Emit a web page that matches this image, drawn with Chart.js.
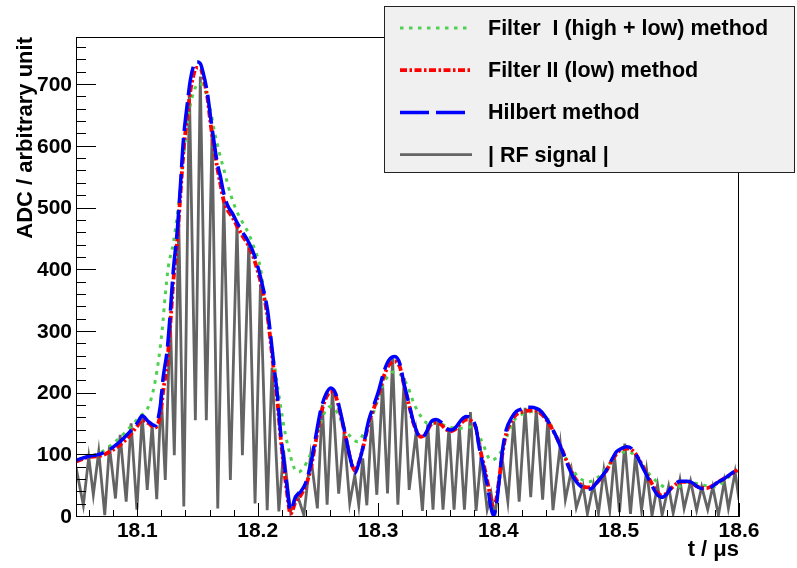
<!DOCTYPE html>
<html>
<head>
<meta charset="utf-8">
<script src="https://cdn.jsdelivr.net/npm/chart.js@4.4.1/dist/chart.umd.min.js"></script>
<style>
  html, body { margin: 0; padding: 0; background: #fff; }
  #wrap { width: 797px; height: 568px; }
</style>
</head>
<body>
<div id="wrap"><canvas id="envChart" width="797" height="568"></canvas></div>
<script>
// time axis (us) shared by the Hilbert and Filter II envelopes
const envTimes = [18.049, 18.059, 18.069, 18.079, 18.0898, 18.0998, 18.104, 18.109, 18.1148, 18.119,
    18.1215, 18.1248, 18.1273, 18.1298, 18.1332, 18.1357, 18.1382, 18.1415, 18.144, 18.1465,
    18.149, 18.1523, 18.1548, 18.1582, 18.1607, 18.1632, 18.1665, 18.169, 18.1715, 18.1748,
    18.179, 18.1832, 18.1873, 18.1915, 18.1957, 18.1998, 18.204, 18.2082, 18.2107, 18.2132,
    18.2165, 18.219, 18.2215, 18.224, 18.2273, 18.2315, 18.2357, 18.2398, 18.244, 18.2482,
    18.2523, 18.2565, 18.2607, 18.2648, 18.269, 18.2732, 18.2773, 18.2807, 18.284, 18.2882,
    18.2923, 18.2965, 18.3007, 18.3048, 18.309, 18.314, 18.3182, 18.3215, 18.3257, 18.3298,
    18.3357, 18.3398, 18.344, 18.3482, 18.3523, 18.3565, 18.3607, 18.3648, 18.369, 18.3732,
    18.3773, 18.3815, 18.384, 18.3882, 18.3915, 18.394, 18.3957, 18.3982, 18.4007, 18.4032,
    18.4065, 18.4107, 18.4148, 18.419, 18.4232, 18.4273, 18.4315, 18.4357, 18.4398, 18.444,
    18.4482, 18.4523, 18.4565, 18.4607, 18.4648, 18.469, 18.4732, 18.4773, 18.4815, 18.4857,
    18.4898, 18.494, 18.4982, 18.5023, 18.5065, 18.5107, 18.5148, 18.519, 18.5232, 18.5273,
    18.5315, 18.5357, 18.5398, 18.544, 18.5482, 18.5523, 18.5565, 18.5607, 18.5648, 18.569,
    18.5732, 18.5773, 18.5815, 18.5857, 18.5898, 18.594, 18.5982, 18.6];

const hilbertValues = [92, 98, 102, 112, 130, 152, 164, 155, 148, 179,
    227, 271, 330, 398, 465, 535, 610, 670, 708, 730,
    738, 735, 719, 687, 650, 615, 573, 552, 527, 506,
    492, 476, 462, 449, 432, 408, 375, 335, 295, 250,
    195, 138, 95, 55, 11, 33, 41, 55, 85, 130,
    173, 198, 209, 200, 168, 130, 92, 71, 87, 119,
    157, 181, 206, 235, 254, 260, 248, 217, 184, 152,
    128, 136, 154, 158, 154, 144, 141, 146, 157, 163,
    160, 144, 114, 76, 44, 14, 3, 17, 60, 105,
    141, 160, 171, 175, 178, 178, 176, 171, 160, 146,
    130, 111, 90, 71, 57, 49, 45, 46, 55, 65,
    76, 92, 106, 111, 114, 111, 100, 84, 68, 52,
    38, 32, 37, 49, 56, 58, 58, 56, 50, 46,
    46, 49, 55, 60, 65, 71, 76, 79];

const filter2Values = [90, 97, 99, 108, 124, 147, 157, 152, 145, 165,
    205, 250, 310, 380, 450, 520, 590, 650, 690, 715,
    728, 728, 712, 680, 640, 605, 565, 540, 515, 498,
    486, 470, 456, 443, 425, 400, 368, 325, 285, 240,
    185, 130, 85, 45, 5, 25, 35, 50, 78, 122,
    165, 192, 203, 196, 165, 128, 92, 75, 88, 118,
    152, 176, 200, 228, 246, 252, 243, 215, 182, 150,
    130, 136, 150, 153, 150, 142, 139, 143, 152, 158,
    156, 143, 117, 82, 52, 28, 20, 28, 62, 100,
    135, 155, 166, 170, 172, 173, 172, 167, 158, 145,
    130, 112, 92, 74, 60, 52, 48, 48, 55, 64,
    75, 90, 103, 109, 111, 109, 100, 86, 70, 55,
    42, 35, 38, 47, 54, 57, 57, 55, 50, 47,
    47, 50, 55, 60, 65, 70, 76, 80];

// Filter I (high + low) envelope
const filter1Times = [18.049, 18.059, 18.069, 18.079, 18.0898, 18.0998, 18.104, 18.109, 18.1132, 18.1173,
    18.1207, 18.1232, 18.1257, 18.1298, 18.1332, 18.1373, 18.1415, 18.1457, 18.1515, 18.1565,
    18.1607, 18.164, 18.1682, 18.1723, 18.1773, 18.1823, 18.1873, 18.1923, 18.1973, 18.2023,
    18.2065, 18.2107, 18.2148, 18.219, 18.2232, 18.2273, 18.2307, 18.234, 18.2382, 18.2423,
    18.2465, 18.2523, 18.2565, 18.2607, 18.2665, 18.2715, 18.2773, 18.2832, 18.2882, 18.294,
    18.2998, 18.3048, 18.3123, 18.319, 18.3248, 18.3298, 18.3357, 18.3415, 18.3498, 18.3582,
    18.369, 18.3773, 18.3857, 18.394, 18.4023, 18.4082, 18.4132, 18.4215, 18.4315, 18.4415,
    18.4498, 18.4582, 18.4665, 18.4748, 18.4832, 18.4915, 18.4998, 18.5082, 18.5165, 18.5248,
    18.5332, 18.5415, 18.5498, 18.5582, 18.569, 18.5798, 18.5915, 18.6];

const filter1Values = [90, 98, 104, 118, 137, 158, 166, 178, 205, 250,
    305, 360, 405, 443, 490, 562, 638, 682, 703, 690,
    660, 625, 590, 560, 524, 497, 478, 460, 435, 403,
    345, 290, 235, 180, 132, 98, 78, 73, 80, 95,
    114, 152, 173, 179, 168, 146, 130, 122, 136, 157,
    190, 217, 235, 230, 211, 184, 163, 152, 152, 146,
    144, 146, 125, 92, 106, 136, 157, 168, 171, 157,
    122, 87, 65, 57, 65, 84, 103, 106, 92, 71,
    55, 46, 49, 57, 52, 49, 65, 76];

// |RF signal| samples (peaks and troughs)
const rfTimes = [18.049, 18.0551, 18.0596, 18.0634, 18.0679, 18.0729, 18.0768, 18.0818, 18.0857, 18.0907,
    18.0948, 18.0996, 18.104, 18.1082, 18.1123, 18.1161, 18.1198, 18.1232, 18.1273, 18.1307,
    18.1344, 18.1386, 18.1432, 18.1482, 18.1523, 18.1573, 18.1621, 18.1668, 18.1718, 18.1773,
    18.1828, 18.1873, 18.1926, 18.1978, 18.2023, 18.2079, 18.2119, 18.2176, 18.2215, 18.2273,
    18.2329, 18.2384, 18.244, 18.2496, 18.2537, 18.2577, 18.2621, 18.2673, 18.2718, 18.2765,
    18.2807, 18.284, 18.2873, 18.2907, 18.2948, 18.299, 18.3038, 18.3079, 18.3121, 18.3165,
    18.3218, 18.3259, 18.3315, 18.3369, 18.3413, 18.3457, 18.3496, 18.354, 18.359, 18.3632,
    18.3676, 18.3718, 18.3768, 18.3815, 18.3857, 18.3907, 18.394, 18.397, 18.4032, 18.4079,
    18.4128, 18.4173, 18.4223, 18.4269, 18.4315, 18.4368, 18.4412, 18.4454, 18.4515, 18.4557,
    18.4607, 18.4648, 18.4704, 18.474, 18.479, 18.4832, 18.4877, 18.4926, 18.4965, 18.5007,
    18.5051, 18.5098, 18.514, 18.519, 18.5232, 18.5277, 18.5323, 18.5361, 18.5415, 18.5453,
    18.5509, 18.5544, 18.5598, 18.5648, 18.569, 18.574, 18.5782, 18.5829, 18.5878, 18.5912,
    18.5968, 18.6];

const rfValues = [81, 19, 97, 36, 106, 3, 115, 30, 133, 25,
    152, 12, 164, 44, 150, 29, 200, 60, 325, 100,
    480, 17, 695, 157, 714, 157, 627, 14, 515, 60,
    475, 100, 443, 22, 376, 11, 242, 9, 108, 9,
    36, 3, 100, 14, 182, 20, 206, 38, 136, 22,
    68, 19, 95, 19, 160, 36, 215, 38, 257, 20,
    225, 44, 135, 10, 150, 12, 155, 12, 145, 12,
    145, 12, 170, 10, 100, 12, 38, 0, 95, 25,
    155, 25, 177, 32, 175, 28, 160, 11, 118, 28,
    76, 15, 50, 5, 53, 6, 76, 11, 100, 8,
    119, 5, 100, 11, 76, 2, 52, 3, 50, 6,
    60, 14, 58, 11, 49, 12, 49, 3, 58, 14,
    73, 28];

const seriesLabels = ['Filter  I (high + low) method', 'Filter II (low) method', 'Hilbert method', '| RF signal |'];
const xTickValues = [18.1, 18.2, 18.3, 18.4, 18.5, 18.6];
const xTickLabels = ['18.1', '18.2', '18.3', '18.4', '18.5', '18.6'];
const yTickValues = [0, 100, 200, 300, 400, 500, 600, 700];
const yTickLabels = ['0', '100', '200', '300', '400', '500', '600', '700'];

const fontFamily = '"Liberation Sans", Arial, Helvetica, sans-serif';
const tickFont = { family: fontFamily, size: 21, weight: 'bold' };
const titleFont = { family: fontFamily, size: 22, weight: 'bold' };

function toPoints(times, values) {
    return times.map((t, i) => ({ x: t, y: values[i] }));
}

// ROOT-like frame with ticks pointing into the plot
const frameTicks = {
    id: 'frameTicks',
    afterDatasetsDraw(chart) {
        const { ctx, chartArea: a, scales: { x, y } } = chart;
        ctx.save();
        ctx.strokeStyle = '#000';
        ctx.lineWidth = 1;
        ctx.beginPath();
        for (let v = 0; v <= y.max; v += 20) {
            const py = Math.round(y.getPixelForValue(v)) - 0.5;
            const len = v % 100 === 0 ? 20 : 10;
            ctx.moveTo(a.left, py);
            ctx.lineTo(a.left + len, py);
        }
        const kMin = Math.ceil(x.min / 0.02 - 1e-6);
        const kMax = Math.floor(x.max / 0.02 + 1e-6);
        for (let k = kMin; k <= kMax; k++) {
            const px = Math.round(x.getPixelForValue(k * 0.02)) + 0.5;
            const len = k % 5 === 0 ? 14 : 7;
            ctx.moveTo(px, a.bottom);
            ctx.lineTo(px, a.bottom - len);
        }
        ctx.stroke();
        ctx.strokeRect(a.left + 0.5, a.top + 0.5, a.right - a.left - 1, a.bottom - a.top - 1);
        ctx.restore();
    }
};

const boxLegend = {
    id: 'boxLegend',
    afterDraw(chart) {
        const ctx = chart.ctx;
        ctx.save();
        ctx.fillStyle = '#f0f0f0';
        ctx.fillRect(384, 6, 411, 167);
        ctx.strokeStyle = '#222';
        ctx.lineWidth = 1;
        ctx.strokeRect(384.5, 6.5, 410, 166);
        chart.data.datasets.forEach((ds, i) => {
            const cy = 28 + i * 42.2;
            ctx.strokeStyle = ds.borderColor;
            ctx.lineWidth = ds.borderWidth;
            ctx.setLineDash(ds.borderDash || []);
            ctx.beginPath();
            ctx.moveTo(400, cy);
            ctx.lineTo(472, cy);
            ctx.stroke();
            ctx.setLineDash([]);
            ctx.fillStyle = '#000';
            ctx.font = 'bold 21.5px ' + fontFamily;
            ctx.textBaseline = 'middle';
            ctx.fillText(ds.label, 488, cy + 1);
        });
        ctx.restore();
    }
};

new Chart(document.getElementById('envChart'), {
    type: 'line',
    data: {
        datasets: [
            {
                label: seriesLabels[0],
                data: toPoints(filter1Times, filter1Values),
                borderColor: '#50d050',
                borderWidth: 3,
                borderDash: [3.5, 5.5],
                cubicInterpolationMode: 'monotone',
                pointRadius: 0,
                order: 2
            },
            {
                label: seriesLabels[1],
                data: toPoints(envTimes, filter2Values),
                borderColor: '#ff0000',
                borderWidth: 3.8,
                borderDash: [7, 2.5, 2.5, 2.5],
                cubicInterpolationMode: 'monotone',
                pointRadius: 0,
                order: 1
            },
            {
                label: seriesLabels[2],
                data: toPoints(envTimes, hilbertValues),
                borderColor: '#0000ff',
                borderWidth: 3.5,
                borderDash: [29, 7],
                cubicInterpolationMode: 'monotone',
                pointRadius: 0,
                order: 0
            },
            {
                label: seriesLabels[3],
                data: toPoints(rfTimes, rfValues),
                borderColor: '#646464',
                borderWidth: 2.8,
                tension: 0,
                pointRadius: 0,
                order: 3
            }
        ]
    },
    options: {
        responsive: false,
        animation: false,
        devicePixelRatio: 1,
        layout: { padding: { top: 37, right: 58, left: 0, bottom: 0 } },
        plugins: {
            legend: { display: false },
            tooltip: { enabled: false }
        },
        scales: {
            x: {
                type: 'linear',
                min: 18.049,
                max: 18.6,
                afterBuildTicks: s => { s.ticks = xTickValues.map(v => ({ value: v })); },
                afterFit: s => { s.height = 51; },
                grid: { display: false, drawTicks: false },
                border: { display: false },
                ticks: {
                    autoSkip: false,
                    maxRotation: 0,
                    padding: 2,
                    color: '#000',
                    font: tickFont,
                    callback: (v, i) => xTickLabels[i]
                },
                title: {
                    display: true,
                    text: 't / μs',
                    align: 'end',
                    color: '#000',
                    font: titleFont,
                    padding: { top: 0, bottom: 5 }
                }
            },
            y: {
                type: 'linear',
                min: 0,
                max: 778,
                afterBuildTicks: s => { s.ticks = yTickValues.map(v => ({ value: v })); },
                afterFit: s => { s.width = 76; },
                grid: { display: false, drawTicks: false },
                border: { display: false },
                ticks: {
                    autoSkip: false,
                    padding: 4,
                    color: '#000',
                    font: tickFont,
                    callback: (v, i) => yTickLabels[i]
                },
                title: {
                    display: true,
                    text: 'ADC / arbitrary unit',
                    align: 'end',
                    color: '#000',
                    font: titleFont,
                    padding: { top: 13, bottom: 0 }
                }
            }
        }
    },
    plugins: [frameTicks, boxLegend]
});
</script>
</body>
</html>
